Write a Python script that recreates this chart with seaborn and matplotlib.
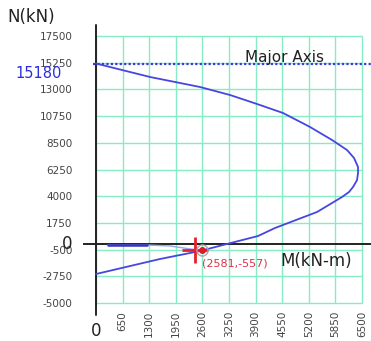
import matplotlib
matplotlib.use("Agg")
import matplotlib.pyplot as plt
import seaborn as sns
import pandas as pd

# Interaction diagram (major axis): axial load N vs. moment M
curve_m = [0, 1320, 2542, 3275, 3935, 4570, 5230, 5767, 6134, 6305, 6403, 6403,
           6378, 6281, 6183, 6012, 5401, 4888, 4374, 3959, 3226, 2542, 1564, 0]
curve_n = [15180, 14044, 13201, 12527, 11769, 11011, 9832, 8736, 7894, 7220, 6462,
           5956, 5350, 4777, 4355, 3934, 2670, 1997, 1322, 648, 0, -615, -1289, -2553]

# Load path towards the design point
path_m = [293, 1246, 1808, 2297, 2581]
path_n = [-110, -110, -190, -440, -557]
path_dark_m = [293, 1246]
path_dark_n = [-110, -110]

design_m = 2581
design_n = -557
cross_m = 2420
cross_n = -557

pure_axial = 15180

x_ticks = [650, 1300, 1950, 2600, 3250, 3900, 4550, 5200, 5850, 6500]
y_ticks = [17500, 15250, 13000, 10750, 8500, 6250, 4000, 1750, -500, -2750, -5000]

sns.set_theme(style="white")
plt.rcParams["font.family"] = ["DejaVu Sans"]

W, H = 371, 341
fig = plt.figure(figsize=(W / 100, H / 100), dpi=100)
ax = fig.add_axes([83 / W, 1 - 309 / H, 288 / W, (309 - 25) / H])
ax.set_xlim(-318, 6720)
ax.set_ylim(-5501, 18424)
for s in ax.spines.values():
    s.set_visible(False)

grid_c = "#86ecc6"
ax.vlines([0] + x_ticks, -5000, 17500, color=grid_c, lw=1.0, zorder=0)
ax.hlines(y_ticks, 0, 6500, color=grid_c, lw=1.0, zorder=0)

# Axes through the origin
ax.axhline(0, color="#222222", lw=1.4, zorder=2)
ax.axvline(0, ymin=-0.022, ymax=1, color="#222222", lw=1.4, zorder=2, clip_on=False)

# Pure axial capacity line
ax.plot([-80, 6720], [pure_axial, pure_axial], color="#3a3ad8", lw=1.6,
        ls=(0, (1, 1)), zorder=3, clip_on=False)

curve = pd.DataFrame({"M": curve_m, "N": curve_n})
sns.lineplot(data=curve, x="M", y="N", sort=False, estimator=None,
             color="#4646e0", lw=1.3, ax=ax, zorder=4)

path = pd.DataFrame({"M": path_m, "N": path_n})
sns.lineplot(data=path, x="M", y="N", sort=False, estimator=None,
             color="#94a8ea", lw=1.0, ax=ax, zorder=4)
ax.plot(path_dark_m, path_dark_n, color="#3434c0", lw=1.8, zorder=4)

ax.plot([cross_m], [cross_n], marker="+", ms=19, mew=2.0, color="#e8202c", zorder=6)
ax.plot([design_m], [design_n], marker="o", ms=8, mfc="none", mec="#b0a8a8",
        mew=1.0, zorder=6)
ax.plot([design_m], [design_n], marker="o", ms=4, color="#d81e2a", zorder=7)
ax.text(design_m + 10, design_n - 1070, f"({design_m},{design_n})", color="#e03048",
        fontsize=8, va="center", ha="left", zorder=7)

ax.set_xticks(x_ticks)
ax.set_xticklabels([str(v) for v in x_ticks], rotation=90, va="top")
ax.set_yticks(y_ticks)
ax.set_yticklabels([str(v) for v in y_ticks])
ax.tick_params(axis="x", length=0, pad=1.5, labelsize=7.5, labelcolor="#444444")
ax.tick_params(axis="y", length=0, pad=7.5, labelsize=7.5, labelcolor="#444444")
ax.set_xlabel("")
ax.set_ylabel("")

ax.text(-709, 0, "0", fontsize=12, color="#222222", ha="center", va="center",
        clip_on=False)
ax.text(0, -7350, "0", fontsize=12, color="#222222", ha="center", va="center",
        clip_on=False)
ax.text(-831, pure_axial - 200, "15180", fontsize=10.5, color="#2c2ce0",
        ha="right", va="top", clip_on=False)
ax.text(3641, pure_axial + 100, "Major Axis", fontsize=11, color="#222222",
        ha="left", va="baseline", zorder=5)
ax.text(4497, -1457, "M(kN-m)", fontsize=12, color="#222222", ha="left",
        va="center", zorder=5)
fig.text(7 / W, 1 - 17 / H, "N(kN)", fontsize=12, color="#222222", ha="left",
         va="center")

fig.savefig("out.png", dpi=100)
